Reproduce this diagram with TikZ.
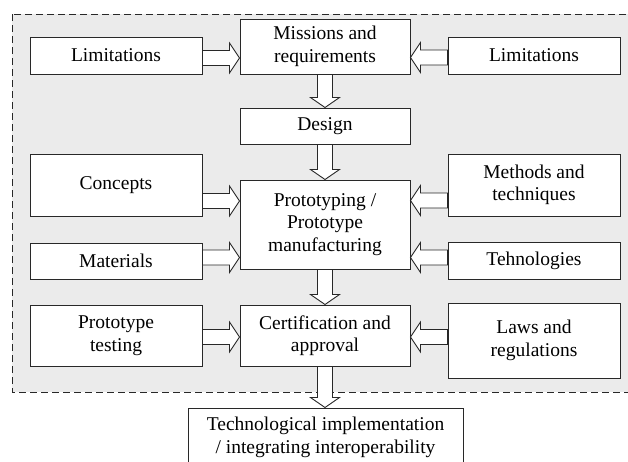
\documentclass[tikz,border=0pt]{standalone}
\usepackage{fontspec}
\setmainfont{Liberation Serif}
\usetikzlibrary{calc}
\definecolor{framegray}{RGB}{235,235,235}
\definecolor{inkline}{RGB}{40,40,40}
\tikzset{
  box/.style={draw=inkline, line width=1pt, fill=white, inner sep=0pt, align=center,
    font=\fontsize{19.5}{22.5}\selectfont},
  txt/.style={inner sep=0pt, align=center, font=\fontsize{19.5}{22.5}\selectfont},
  barrow/.style={draw=inkline, line width=0.9pt, fill=white, line join=miter},
  frame/.style={draw=inkline, line width=1pt, dash pattern=on 7pt off 4pt, fill=framegray}
}
% horizontal block arrow: from #1 to x of #2, at y of #1
\newcommand\harrow[2]{%
  \draw[barrow] let \p1=(#1), \p2=(#2), \n1={sign(\x2-\x1)} in
    (\x1,\y1+7.5pt) -- (\x2-\n1*10pt,\y1+7.5pt) -- (\x2-\n1*10pt,\y1+15pt) -- (\x2,\y1)
    -- (\x2-\n1*10pt,\y1-15pt) -- (\x2-\n1*10pt,\y1-7.5pt) -- (\x1,\y1-7.5pt) -- cycle;}
% vertical (downward) block arrow: from #1 to y of #2, at x of #1
\newcommand\varrow[2]{%
  \draw[barrow] let \p1=(#1), \p2=(#2) in
    (\x1-7.5pt,\y1) -- (\x1-7.5pt,\y2+10pt) -- (\x1-14.5pt,\y2+10pt) -- (\x1,\y2)
    -- (\x1+14.5pt,\y2+10pt) -- (\x1+7.5pt,\y2+10pt) -- (\x1+7.5pt,\y1) -- cycle;}
\begin{document}
\begin{tikzpicture}[x=1pt,y=-1pt]
\useasboundingbox (0,0) rectangle (628,461);
\begin{scope}
\clip (0,0) rectangle (628,461);
\fill[white] (0,0) rectangle (628,461);
\path[frame] (12,14) rectangle (634,392);

\node[box, minimum width=172pt, minimum height=37pt] (limL) at (116,55.5) {Limitations};
\node[box, minimum width=170pt, minimum height=55pt] (miss) at (325,46.5) {Missions and\\requirements};
\node[box, minimum width=172pt, minimum height=37pt] (limR) at (534,55.5) {Limitations};
\node[box, minimum width=170pt, minimum height=36pt] (design) at (325,126) {Design};
\node[box, minimum width=172pt, minimum height=62pt] (concepts) at (116,185) {Concepts};
\node[box, minimum width=170pt, minimum height=89pt] (proto) at (325,224.5) {Prototyping /\\Prototype\\manufacturing};
\node[box, minimum width=172pt, minimum height=62pt] (methods) at (534,185) {Methods and\\techniques};
\node[box, minimum width=172pt, minimum height=36pt] (materials) at (116,261) {Materials};
\node[box, minimum width=172pt, minimum height=37pt] (tehn) at (534,260.5) {Tehnologies};
\node[box, minimum width=172pt, minimum height=61pt] (testing) at (116,335.5) {Prototype\\testing};
\node[box, minimum width=170pt, minimum height=61pt] (cert) at (325,335.5) {Certification and\\approval};
\node[box, minimum width=172pt, minimum height=75pt] (laws) at (534,340.5) {Laws and\\regulations};
\node[box, minimum width=275pt, minimum height=80pt, anchor=north] (techbox) at (325.5,407.5) {};
\node[txt, anchor=north] (tech) at (325.5,417) {Technological implementation\\/ integrating interoperability};

\harrow{[yshift=-2.5pt]limL.east}{miss.west}
\harrow{[yshift=-2pt]limR.west}{miss.east}
\harrow{[yshift=-16pt]concepts.east}{proto.west}
\harrow{[yshift=3.5pt]materials.east}{proto.west}
\harrow{[yshift=-15.5pt]methods.west}{proto.east}
\harrow{[yshift=3pt]tehn.west}{proto.east}
\harrow{[yshift=-1.5pt]testing.east}{cert.west}
\harrow{[yshift=3.5pt]laws.west}{cert.east}

\varrow{miss.south}{design.north}
\varrow{design.south}{proto.north}
\varrow{proto.south}{cert.north}
\varrow{cert.south}{techbox.north}
\end{scope}
\end{tikzpicture}
\end{document}
